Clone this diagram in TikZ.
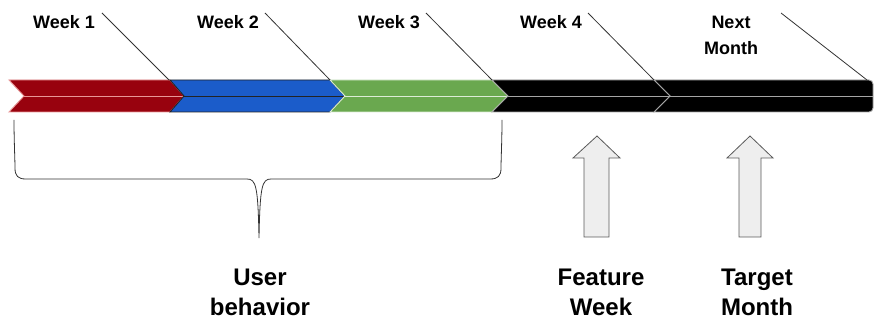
\documentclass[tikz,border=0pt]{standalone}
\usepackage{fontspec}
\setmainfont{Liberation Sans}
\definecolor{cred}{RGB}{152,2,14}
\definecolor{cblue}{RGB}{27,92,202}
\definecolor{cgreen}{RGB}{106,168,79}
\definecolor{ored}{RGB}{232,150,150}
\definecolor{oblue}{RGB}{35,35,35}
\definecolor{ogreen}{RGB}{220,236,214}
\definecolor{oblack}{RGB}{165,165,165}
\definecolor{arrfill}{RGB}{238,238,238}
\definecolor{arrline}{RGB}{90,90,90}
\begin{document}
\begin{tikzpicture}[x=1pt,y=-1pt,
  seg/.style={line width=0.9pt, line join=miter},
  leader/.style={draw=black!80, line width=0.8pt},
  toplabel/.style={font=\bfseries\fontsize{18}{26}\selectfont, align=center, inner sep=0pt},
  botlabel/.style={font=\bfseries\fontsize{24}{30}\selectfont, align=center, inner sep=0pt},
  uparrow/.style={draw=arrline, fill=arrfill, line width=0.8pt, line join=miter}]
\useasboundingbox (0,0) rectangle (875,320);

% chevron segments
\draw[seg, fill=cred, draw=ored] (9,80) -- (170,80) -- (184,96) -- (170,112) -- (9,112) -- (24,96) -- cycle;
\draw[seg, draw=ored] (24,96) -- (184,96);
\draw[seg, fill=cblue, draw=oblue] (170,80) -- (330,80) -- (345,96) -- (330,112) -- (170,112) -- (184,96) -- cycle;
\draw[seg, draw=oblue] (184,96) -- (345,96);
\draw[seg, fill=cgreen, draw=ogreen] (330,80) -- (492,80) -- (508,96) -- (492,112) -- (330,112) -- (345,96) -- cycle;
\draw[seg, draw=ogreen] (345,96) -- (508,96);
\draw[seg, fill=black, draw=oblack] (654,80) [rounded corners=4pt] -- (873,80) -- (873,112) [sharp corners] -- (654,112) -- (670,96) -- cycle;
\draw[seg, fill=black, draw=oblack] (492,80) -- (654,80) -- (670,96) -- (654,112) -- (492,112) -- (508,96) -- cycle;
\draw[seg, draw=oblack] (508,96) -- (873,96);

% corner coordinates
\coordinate (c1) at (169,80);
\coordinate (c2) at (330,80);
\coordinate (c3) at (492,80);
\coordinate (c4) at (654,80);
\coordinate (c5) at (867,80);
\coordinate (s1) at (102,13);
\coordinate (s2) at (265,13);
\coordinate (s3) at (426,13);
\coordinate (s4) at (588,13);
\coordinate (s5) at (781,13);

% labels
\node[toplabel] (w1) at (64,22) {Week 1};
\node[toplabel] (w2) at (228,22) {Week 2};
\node[toplabel] (w3) at (389,22) {Week 3};
\node[toplabel] (w4) at (551,22) {Week 4};
\node[toplabel] (nm) at (731,35) {Next\\Month};

% leader lines
\draw[leader] (s1) -- (c1);
\draw[leader] (s2) -- (c2);
\draw[leader] (s3) -- (c3);
\draw[leader] (s4) -- (c4);
\draw[leader] (s5) -- (c5);

% brace
\draw[line width=0.8pt, draw=black!80] (14,120) .. controls (14,140) and (15,160) .. (15,168)
  .. controls (15,176) and (18,179) .. (26,179) -- (247,179)
  .. controls (256,179) and (258,186) .. (259,238)
  .. controls (260,186) and (262,179) .. (271,179) -- (490,179)
  .. controls (498,179) and (501,176) .. (501,168)
  .. controls (501,160) and (502,140) .. (502,120);
\coordinate (bt) at (259,238);

% up arrows
\draw[uparrow] (584,237) -- (584,158) -- (573,158) -- (597,136) -- (620,158) -- (609,158) -- (609,237) -- cycle;
\draw[uparrow] (739,237) -- (739,158) -- (727,158) -- (750,136) -- (773,158) -- (761,158) -- (761,237) -- cycle;

% bottom labels
\node[botlabel] (ub) at (260,292) {User\\behavior};
\node[botlabel] (fw) at (601,292) {Feature\\Week};
\node[botlabel] (tm) at (757,292) {Target\\Month};
\end{tikzpicture}
\end{document}
